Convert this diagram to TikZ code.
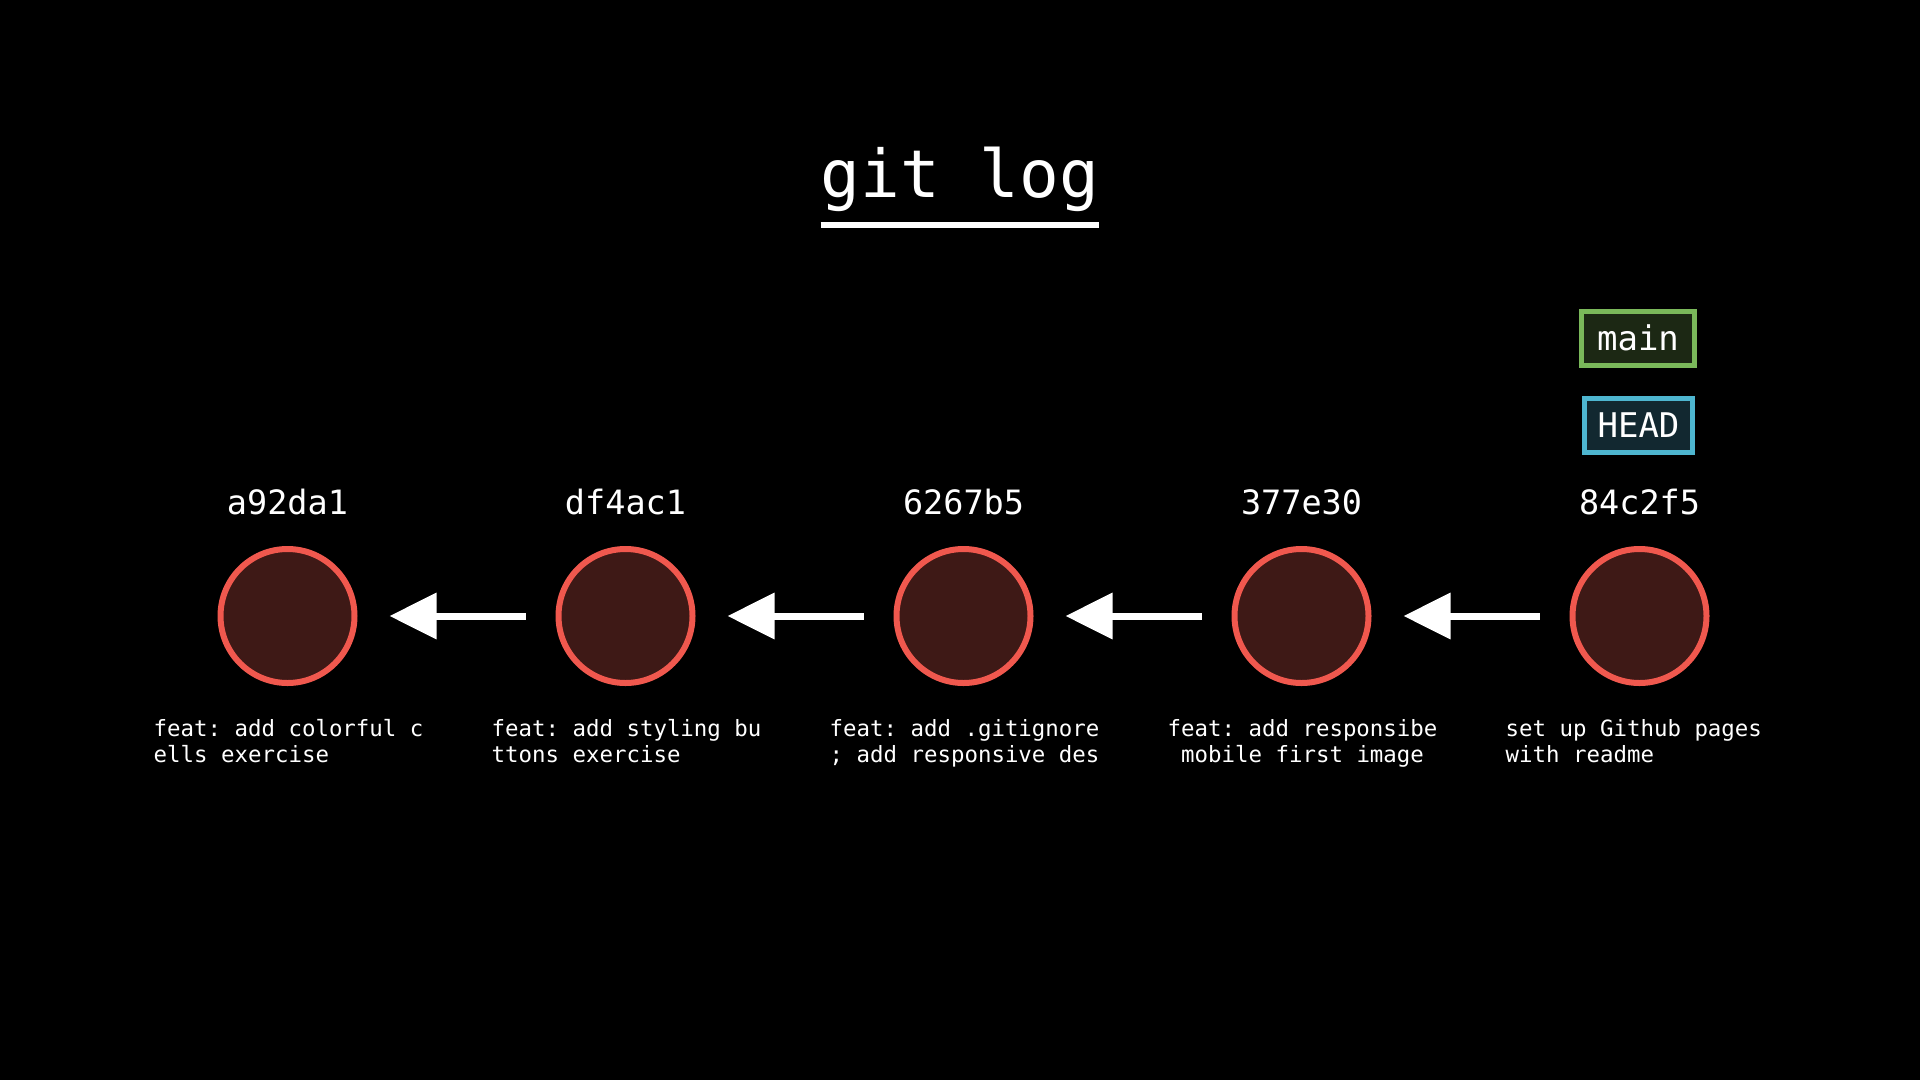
\documentclass[tikz,border=0pt]{standalone}
\usepackage{fontspec}
\setmonofont{DejaVu Sans Mono}
\usetikzlibrary{arrows.meta}

\definecolor{commitline}{RGB}{240,88,78}
\definecolor{commitfill}{RGB}{62,25,22}
\definecolor{mainline}{RGB}{122,184,90}
\definecolor{mainfill}{RGB}{28,40,20}
\definecolor{headline}{RGB}{78,182,208}
\definecolor{headfill}{RGB}{18,40,48}

\begin{document}
\begin{tikzpicture}[
  x=1pt, y=-1pt,
  every node/.style={text=white, font=\ttfamily},
  commit/.style={circle, draw=commitline, fill=commitfill, line width=6pt, minimum size=134pt, inner sep=0pt},
  hash/.style={anchor=base, font=\ttfamily\fontsize{33.5}{36}\selectfont},
  msg/.style={anchor=north west, inner sep=0pt, text width=320pt, align=flush left, font=\ttfamily\fontsize{22.4}{26}\selectfont},
  ref/.style={draw, line width=5pt, minimum height=54pt, inner sep=0pt, font=\ttfamily\fontsize{34}{36}\selectfont},
  arr/.style={-{Triangle[length=47pt, width=45pt]}, draw=white, line width=7pt, shorten <=30pt, shorten >=32pt}
]
\fill[black] (0,0) rectangle (1920,1080);

\node[anchor=base, inner sep=0pt, font=\ttfamily\fontsize{66}{70}\selectfont] (title) at (960,197) {git log};
\draw[white, line width=6pt] ([yshift=-28pt]title.base west) -- ([yshift=-28pt]title.base east);

\node[commit] (c1) at (287.5,616) {};
\node[commit] (c2) at (625.5,616) {};
\node[commit] (c3) at (963.5,616) {};
\node[commit] (c4) at (1301.5,616) {};
\node[commit] (c5) at (1639.5,616) {};

\node[hash] (h1) at (287.5,514) {a92da1};
\node[hash] (h2) at (625.5,514) {df4ac1};
\node[hash] (h3) at (963.5,514) {6267b5};
\node[hash] (h4) at (1301.5,514) {377e30};
\node[hash] (h5) at (1639.5,514) {84c2f5};

\node[msg] (m1) at (153.5,719) {feat: add colorful c\\ells exercise};
\node[msg] (m2) at (491.5,719) {feat: add styling bu\\ttons exercise};
\node[msg] (m3) at (829.5,719) {feat: add .gitignore\\; add responsive des};
\node[msg] (m4) at (1167.5,719) {feat: add responsibe\\\hphantom{x}mobile first image};
\node[msg] (m5) at (1505.5,719) {set up Github pages\\with readme};

\node[ref, draw=mainline, fill=mainfill, minimum width=113pt] (main) at (1638,338) {main};
\node[ref, draw=headline, fill=headfill, minimum width=108pt] (head) at (1638.5,425.5) {HEAD};

\draw[arr] (c2) -- (c1);
\draw[arr] (c3) -- (c2);
\draw[arr] (c4) -- (c3);
\draw[arr] (c5) -- (c4);
\end{tikzpicture}
\end{document}
